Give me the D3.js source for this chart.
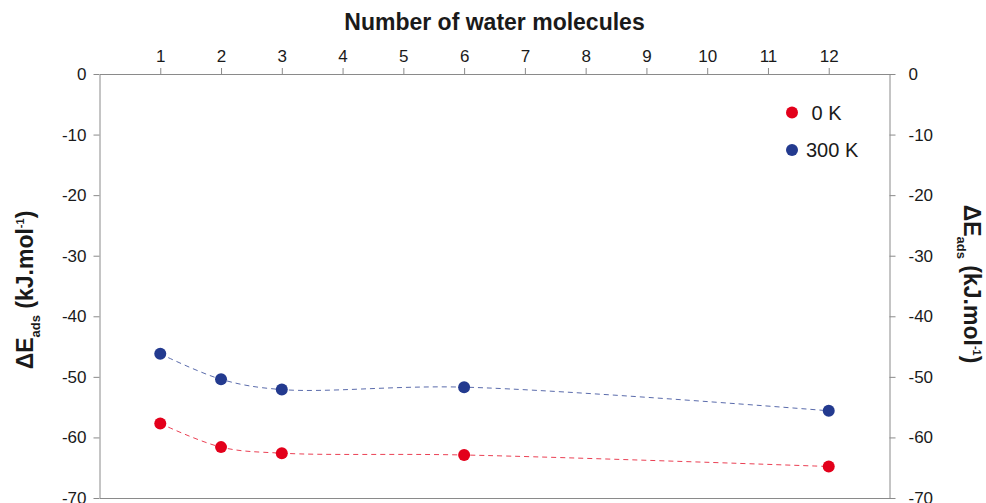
<!DOCTYPE html>
<html>
<head>
<meta charset="utf-8">
<script src="https://cdnjs.cloudflare.com/ajax/libs/d3/7.8.5/d3.min.js"></script>
<style>
  body { margin: 0; background: #fff; }
  text { font-family: "Liberation Sans", Arial, Helvetica, sans-serif; fill: #1a1a1a; }
  .tick text { font-size: 17px; fill: #1a1a1a; }
  .axis path, .axis line { stroke: #8a8a8a; }
</style>
</head>
<body>
<div id="chart"></div>
<script>
// data
var waters = [1, 2, 3, 6, 12];
var e0K = [-57.7, -61.6, -62.6, -62.9, -64.8];
var e300K = [-46.2, -50.4, -52.1, -51.7, -55.6];
var xTicks = [1, 2, 3, 4, 5, 6, 7, 8, 9, 10, 11, 12];
var yTicks = [0, -10, -20, -30, -40, -50, -60, -70];
var seriesNames = ["0 K", "300 K"];
var seriesColors = ["#e3001b", "#233a8f"];

var W = 986, H = 503;
var margin = { top: 74, right: 96.5, bottom: 5, left: 99.5 };

var svg = d3.select("#chart").append("svg")
    .attr("width", W).attr("height", H);

var x = d3.scaleLinear().domain([0, 13]).range([margin.left, W - margin.right]);
var y = d3.scaleLinear().domain([0, -70]).range([margin.top, H - margin.bottom]);

// plain hyphen for negatives, like the original
var fmt = function (d) { return String(d); };

// axes
svg.append("g").attr("class", "axis")
    .attr("transform", "translate(0," + margin.top + ")")
    .call(d3.axisTop(x).tickValues(xTicks).tickFormat(fmt).tickSize(6).tickPadding(6).tickSizeOuter(0));
svg.append("g").attr("class", "axis")
    .attr("transform", "translate(0," + y(-70) + ")")
    .call(d3.axisBottom(x).tickValues([]).tickSizeOuter(0));
svg.append("g").attr("class", "axis")
    .attr("transform", "translate(" + margin.left + ",0)")
    .call(d3.axisLeft(y).tickValues(yTicks).tickFormat(fmt).tickSize(6).tickPadding(7).tickSizeOuter(0));
svg.append("g").attr("class", "axis")
    .attr("transform", "translate(" + x(13) + ",0)")
    .call(d3.axisRight(y).tickValues(yTicks).tickFormat(fmt).tickSize(6).tickPadding(13).tickSizeOuter(0));

svg.selectAll(".axis .domain").attr("stroke", "#8a8a8a");

// title
svg.append("text")
    .attr("x", (x(0) + x(13)) / 2).attr("y", 30)
    .attr("text-anchor", "middle")
    .style("font-size", "23px").style("font-weight", "bold")
    .text("Number of water molecules");

// y labels
function yLabel(g) {
  var t = g.append("text").attr("text-anchor", "middle")
      .style("font-size", "23px").style("font-weight", "bold");
  t.append("tspan").text("ΔE");
  t.append("tspan").attr("dy", 7).style("font-size", "13px").text("ads");
  t.append("tspan").attr("dy", -7).text("\u00a0(kJ.mol");
  t.append("tspan").attr("dy", -9).style("font-size", "11px").text("-1");
  t.append("tspan").attr("dy", 9).text(")");
}
yLabel(svg.append("g").attr("transform", "translate(33,290) rotate(-90)"));
yLabel(svg.append("g").attr("transform", "translate(964,284) rotate(90)"));

// series
var series = [e0K, e300K];
var line = d3.line()
    .x(function (d, i) { return x(waters[i]); })
    .y(function (d) { return y(d); })
    .curve(d3.curveCatmullRom.alpha(0.5));

series.forEach(function (vals, k) {
  svg.append("path")
      .attr("d", line(vals))
      .attr("fill", "none")
      .attr("stroke", seriesColors[k])
      .attr("stroke-opacity", 0.75)
      .attr("stroke-width", 1)
      .attr("stroke-dasharray", "5,4");
  svg.selectAll(null)
      .data(vals)
      .enter().append("circle")
      .attr("cx", function (d, i) { return x(waters[i]); })
      .attr("cy", function (d) { return y(d); })
      .attr("r", 6)
      .attr("fill", seriesColors[k]);
});

// legend
var legend = svg.append("g").attr("transform", "translate(792,112.5)");
seriesNames.forEach(function (name, k) {
  legend.append("circle").attr("cx", 0).attr("cy", k * 37.5).attr("r", 6)
      .attr("fill", seriesColors[k]);
  legend.append("text").attr("x", 14).attr("y", k * 37.5 + 7)
      .style("font-size", "20px")
      .text(k === 0 ? "\u00a0" + name : name);
});
</script>
</body>
</html>
